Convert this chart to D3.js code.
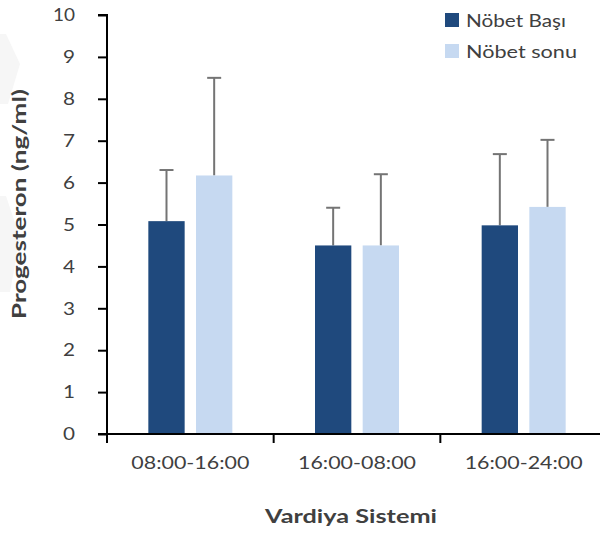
<!DOCTYPE html>
<html>
<head>
<meta charset="utf-8">
<script src="https://cdn.jsdelivr.net/npm/d3@7"></script>
<style>
html,body{margin:0;padding:0;background:#fff;}
svg{display:block;}
text{font-family:Lato, "Open Sans", sans-serif;}
</style>
</head>
<body>
<svg id="chart" width="600" height="536"></svg>
<script>
const categories = ["08:00-16:00", "16:00-08:00", "16:00-24:00"];
const seriesNames = ["Nöbet Başı", "Nöbet sonu"];
const basiValues = [5.08, 4.5, 4.98];
const basiErrors = [1.22, 0.9, 1.7];
const sonuValues = [6.17, 4.5, 5.42];
const sonuErrors = [2.33, 1.7, 1.6];
const yTicks = [0,1,2,3,4,5,6,7,8,9,10];
const colors = ["#1f497d", "#c6d9f1"];

const svg = d3.select("#chart");
const W = 600, H = 536;
const margin = {left:107, right:-7, top:15, bottom:102};

// faint background shapes at left edge
svg.append("path").attr("d","M0,34L6,34L20,64L8,104L0,104Z").attr("fill","#f6f6f6");
svg.append("path").attr("d","M0,196L6,196L20,238L10,292L0,292Z").attr("fill","#f6f6f6");

const x0 = d3.scaleBand().domain(categories).range([margin.left, W - margin.right]);
const y = d3.scaleLinear().domain([0,10]).range([H - margin.bottom, margin.top]);

const barW = 37, gap = 10;
const data = categories.map((c,i)=>({cat:c, vals:[
  {s:0, v:basiValues[i], e:basiErrors[i]},
  {s:1, v:sonuValues[i], e:sonuErrors[i]}
]}));
const x1 = d3.scaleBand().domain([0,1]).range([-(barW + gap/2), barW + gap/2]).paddingInner(gap/(barW*2+gap)*2).paddingOuter(0);

const g = svg.append("g");
const groups = g.selectAll("g.grp").data(data).enter().append("g")
  .attr("transform", d=>`translate(${x0(d.cat)+x0.bandwidth()/2},0)`);

groups.selectAll("g.err").data(d=>d.vals).enter().append("g").each(function(d){
  const cx = x1(d.s) + x1.bandwidth()/2;
  const sel = d3.select(this);
  sel.append("line").attr("x1",cx).attr("x2",cx).attr("y1",y(d.v)).attr("y2",y(d.v+d.e))
    .attr("stroke","#747474").attr("stroke-width",2);
  sel.append("line").attr("x1",cx-7).attr("x2",cx+7).attr("y1",y(d.v+d.e)).attr("y2",y(d.v+d.e))
    .attr("stroke","#747474").attr("stroke-width",2);
});

groups.selectAll("rect").data(d=>d.vals).enter().append("rect")
  .attr("x", d=>x1(d.s)).attr("width", x1.bandwidth())
  .attr("y", d=>y(d.v)).attr("height", d=>y(0)-y(d.v))
  .attr("fill", d=>colors[d.s]);

// y axis
const yAxis = d3.axisLeft(y).tickValues(yTicks).tickSize(9).tickPadding(23).tickFormat(d3.format("d"));
const ya = svg.append("g").attr("transform",`translate(${margin.left},0)`).call(yAxis);
ya.select(".domain").attr("stroke","#000").attr("stroke-width",2).attr("d",`M-9,${y(10)}H0V${y(0)}`);
ya.selectAll(".tick line").attr("stroke","#000").attr("stroke-width",2);
ya.selectAll(".tick text").attr("fill","#404040").style("font-size","18px").style("font-family","Lato, sans-serif")
  .attr("textLength", d=> d>=10 ? 22 : 12).attr("lengthAdjust","spacingAndGlyphs");

// x axis
const xAxis = d3.axisBottom(x0).tickSize(0).tickPadding(22);
const xa = svg.append("g").attr("transform",`translate(0,${y(0)})`).call(xAxis);
xa.select(".domain").attr("stroke","#000").attr("stroke-width",2).attr("d",`M${margin.left-9},0H${W}`);
xa.selectAll(".tick text").attr("fill","#404040").style("font-size","18px").style("font-family","Lato, sans-serif")
  .attr("textLength",118).attr("lengthAdjust","spacingAndGlyphs");
const bounds = categories.map(c=>x0(c)).concat([x0(categories[2])+x0.bandwidth()]);
xa.selectAll("line.bound").data(bounds).enter().append("line").attr("class","bound")
  .attr("x1",d=>d).attr("x2",d=>d).attr("y1",0).attr("y2",9).attr("stroke","#000").attr("stroke-width",2);

// axis titles
svg.append("text").attr("x",351).attr("y",523).attr("text-anchor","middle")
  .attr("fill","#404040").style("font-size","18px").style("font-weight","bold")
  .attr("textLength",172).attr("lengthAdjust","spacingAndGlyphs").text("Vardiya Sistemi");
svg.append("text").attr("transform",`translate(26,204) rotate(-90)`).attr("text-anchor","middle")
  .attr("fill","#404040").style("font-size","18px").style("font-weight","bold")
  .attr("textLength",230).attr("lengthAdjust","spacingAndGlyphs").text("Progesteron (ng/ml)");

// legend
const legendWidths = [100, 111];
const lg = svg.append("g").attr("transform","translate(445,12)");
seriesNames.forEach((n,i)=>{
  lg.append("rect").attr("x",0).attr("y",i*31+1).attr("width",14).attr("height",14).attr("fill",colors[i]);
  lg.append("text").attr("x",21).attr("y",i*31+14.5).attr("fill","#404040").style("font-size","18px")
    .attr("textLength",legendWidths[i]).attr("lengthAdjust","spacingAndGlyphs").text(n);
});
</script>
</body>
</html>
